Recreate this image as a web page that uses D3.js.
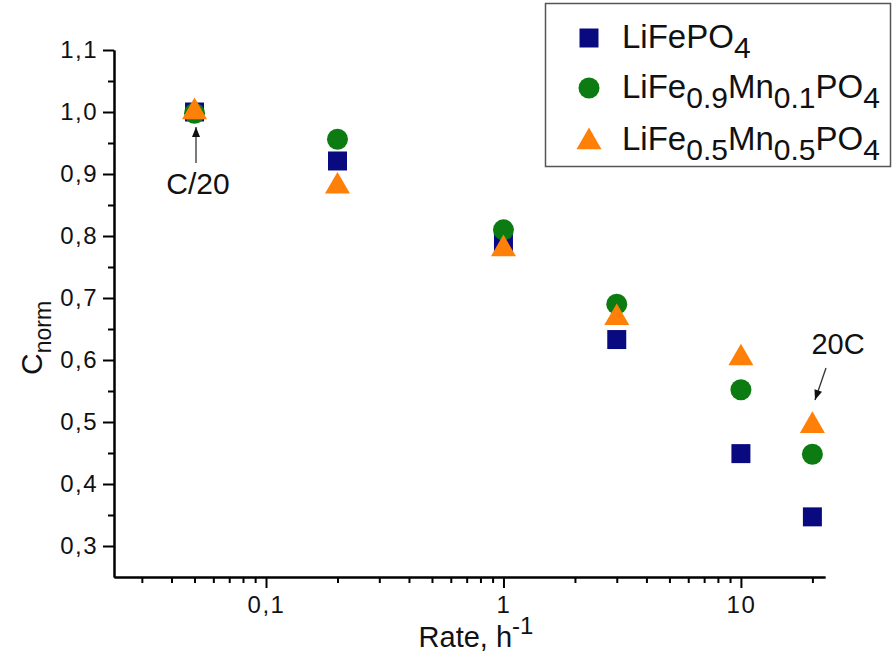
<!DOCTYPE html>
<html><head><meta charset="utf-8">
<script src="https://cdn.jsdelivr.net/npm/d3@7"></script>
<style>
html,body{margin:0;padding:0;background:#fff;}
svg{display:block;font-family:"Liberation Sans",Arial,sans-serif;}
</style></head>
<body>
<svg id="chart" width="894" height="659"></svg>
<script>
// ---- data ----
const rates = [0.05, 0.2, 1, 3, 10, 20];
const lifepo4 = [1.0, 0.921, 0.79, 0.633, 0.449, 0.347];
const mn01 = [0.998, 0.956, 0.81, 0.690, 0.552, 0.448];
const mn05 = [1.0, 0.880, 0.779, 0.668, 0.603, 0.494];
const yTicks = [0.3, 0.4, 0.5, 0.6, 0.7, 0.8, 0.9, 1.0, 1.1];
const yMinor = [0.35, 0.45, 0.55, 0.65, 0.75, 0.85, 0.95, 1.05];
const xTicks = [0.1, 1, 10];
const xTickLabels = ["0,1", "1", "10"];
const xMinor = [0.03,0.04,0.05,0.06,0.07,0.08,0.09,0.2,0.3,0.4,0.5,0.6,0.7,0.8,0.9,2,3,4,5,6,7,8,9,20];

const svg = d3.select("#chart");
const x = d3.scaleLog().domain([0.0229, 22.6]).range([114, 825]);
const y = d3.scaleLinear().domain([0.25, 1.1]).range([577, 50]);
const fmt = v => d3.format(".1f")(v).replace(".", ",");
const FONT = '"Liberation Sans", Arial, sans-serif';

// axes
const gy = svg.append("g").attr("transform", `translate(${x.range()[0]},0)`)
  .call(d3.axisLeft(y).tickValues(yTicks).tickFormat(fmt).tickSize(11).tickSizeOuter(0).tickPadding(5));
const gyMinor = svg.append("g").attr("transform", `translate(${x.range()[0]},0)`)
  .call(d3.axisLeft(y).tickValues(yMinor).tickFormat("").tickSize(6).tickSizeOuter(0));
const gx = svg.append("g").attr("transform", `translate(0,${y.range()[0]})`)
  .call(d3.axisBottom(x).tickValues(xTicks).tickFormat((d,i) => xTickLabels[i]).tickSize(11).tickSizeOuter(0).tickPadding(8));
const gxMinor = svg.append("g").attr("transform", `translate(0,${y.range()[0]})`)
  .call(d3.axisBottom(x).tickValues(xMinor).tickFormat("").tickSize(6).tickSizeOuter(0));
[gy, gyMinor, gx, gxMinor].forEach(g => {
  g.selectAll("path.domain").attr("stroke", "#000").attr("stroke-width", 2);
  g.selectAll(".tick line").attr("stroke", "#000").attr("stroke-width", 2);
  g.selectAll(".tick text").attr("fill", "#111").style("font-size", "24px")
    .style("letter-spacing", "1.5px").style("font-family", FONT);
});

// axis titles
const xt = svg.append("text").attr("x", 476).attr("y", 647).attr("text-anchor", "middle")
  .style("font-size", "29px").attr("fill", "#111");
xt.append("tspan").text("Rate, h");
xt.append("tspan").attr("dy", -13).style("font-size", "24px").text("-1");

const yt = svg.append("text").attr("transform", "translate(42,338) rotate(-90)").attr("text-anchor", "middle")
  .style("font-size", "30px").attr("fill", "#111");
yt.append("tspan").text("C");
yt.append("tspan").attr("dy", 9).style("font-size", "23px").text("norm");

// series
const series = [
  {name: "LiFePO4", values: lifepo4, type: d3.symbolSquare, size: 361, color: "#0a0a80"},
  {name: "mn01", values: mn01, type: d3.symbolCircle, size: 346, color: "#0c7c12"},
  {name: "mn05", values: mn05, type: d3.symbolTriangle, size: 271, color: "#ff8008"}
];
series.forEach(s => {
  svg.append("g").selectAll("path").data(rates.map((r,i) => [r, s.values[i]])).join("path")
    .attr("transform", d => `translate(${x(d[0])},${y(d[1])})`)
    .attr("d", d3.symbol().type(s.type).size(s.size))
    .attr("fill", s.color);
});

// arrows
const defs = svg.append("defs");
defs.append("marker").attr("id", "ah").attr("viewBox", "0 0 10 10").attr("refX", 10).attr("refY", 5)
  .attr("markerWidth", 11).attr("markerHeight", 10).attr("markerUnits", "userSpaceOnUse").attr("orient", "auto")
  .append("path").attr("d", "M0,1 L10,5 L0,9 Z").attr("fill", "#111");
svg.append("line").attr("x1", 196).attr("y1", 163).attr("x2", 196).attr("y2", 127)
  .attr("stroke", "#333").attr("stroke-width", 1.3).attr("marker-end", "url(#ah)");
svg.append("line").attr("x1", 826).attr("y1", 368).attr("x2", 815).attr("y2", 400)
  .attr("stroke", "#333").attr("stroke-width", 1.3).attr("marker-end", "url(#ah)");
svg.append("text").attr("x", 198).attr("y", 194).attr("text-anchor", "middle").style("font-size", "30px").attr("fill", "#111").text("C/20");
svg.append("text").attr("x", 838).attr("y", 354).attr("text-anchor", "middle").style("font-size", "29px").attr("fill", "#111").text("20C");

// legend
const lg = svg.append("g");
lg.append("rect").attr("x", 545.5).attr("y", 3.5).attr("width", 345).attr("height", 163)
  .attr("fill", "#fff").attr("stroke", "#555").attr("stroke-width", 1.5);
const legendRows = [
  {parts: [["LiFePO",0],["4",1]]},
  {parts: [["LiFe",0],["0.9",1],["Mn",0],["0.1",1],["PO",0],["4",1]]},
  {parts: [["LiFe",0],["0.5",1],["Mn",0],["0.5",1],["PO",0],["4",1]]}
];
const rowY = [38, 88, 140];
legendRows.forEach((row, i) => {
  const s = series[i];
  lg.append("path").attr("transform", `translate(589,${rowY[i] + (i===2?2:0)})`)
    .attr("d", d3.symbol().type(s.type).size(s.size)).attr("fill", s.color);
  const t = lg.append("text").attr("x", 622).attr("y", rowY[i] + 10).style("font-size", "33px").attr("fill", "#111");
  let sub = false;
  row.parts.forEach(([txt, isSub]) => {
    const ts = t.append("tspan").text(txt);
    if (isSub && !sub) { ts.attr("dy", 10).style("font-size", "30px"); sub = true; }
    else if (isSub && sub) { ts.style("font-size", "30px"); }
    else if (!isSub && sub) { ts.attr("dy", -10); sub = false; }
  });
});
</script>
</body></html>
